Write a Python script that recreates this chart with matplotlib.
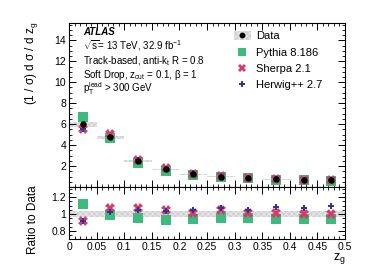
import matplotlib.pyplot as plt
import numpy as np
from matplotlib.lines import Line2D
from matplotlib.patches import Patch
from matplotlib.ticker import MultipleLocator

plt.rcParams["font.family"] = ["Liberation Sans", "DejaVu Sans"]
plt.rcParams["mathtext.fontset"] = "custom"
plt.rcParams["mathtext.rm"] = "Liberation Sans"
plt.rcParams["mathtext.it"] = "Liberation Sans:italic"
plt.rcParams["mathtext.default"] = "regular"
plt.rcParams["hatch.linewidth"] = 0.5

BIN_EDGES = [0.0, 0.05, 0.10, 0.15, 0.20, 0.25, 0.30, 0.35, 0.40, 0.45, 0.50]
DATA = [6.0, 4.73, 2.45, 1.70, 1.24, 0.98, 0.86, 0.74, 0.67, 0.66]
DATA_REL_UNC = [0.04, 0.035, 0.035, 0.035, 0.034, 0.034, 0.034, 0.034, 0.034, 0.034]
PYTHIA = [6.72, 4.68, 2.33, 1.58, 1.17, 0.93, 0.82, 0.70, 0.63, 0.62]
SHERPA = [5.52, 5.06, 2.61, 1.79, 1.26, 1.03, 0.87, 0.75, 0.67, 0.66]
HERWIG = [5.52, 4.82, 2.57, 1.77, 1.30, 1.05, 0.90, 0.80, 0.72, 0.72]

GREEN = "#3dbb7f"
PINK = "#d63a6a"
NAVY = "#2f3790"
BAND_FACE = "#d2d2d2"
BAND_EDGE = "#ececec"


def style_axis(ax):
    ax.tick_params(which="both", direction="in", top=True, right=True, labelsize=7.5, pad=2)
    ax.tick_params(which="major", length=5, width=0.7)
    ax.tick_params(which="minor", length=2.5, width=0.6)
    ax.xaxis.set_major_locator(MultipleLocator(0.05))
    ax.xaxis.set_minor_locator(MultipleLocator(0.01))
    for spine in ax.spines.values():
        spine.set_linewidth(0.8)


def main() -> None:
    edges = np.array(BIN_EDGES)
    centers = 0.5 * (edges[:-1] + edges[1:])
    widths = np.diff(edges)
    data = np.array(DATA)
    unc = np.array(DATA_REL_UNC) * data

    fig = plt.figure(figsize=(3.74, 2.68), dpi=100)
    ax = fig.add_axes([0.1845, 0.302, 0.738, 0.614])
    rax = fig.add_axes([0.1845, 0.108, 0.738, 0.194], sharex=ax)

    band_kw = dict(facecolor=BAND_FACE, edgecolor=BAND_EDGE, hatch="xxxxxx", linewidth=0)
    ax.bar(centers, 2 * unc, width=widths, bottom=data - unc, zorder=1, **band_kw)
    ax.plot(centers, PYTHIA, "s", color=GREEN, ms=6.5, mew=0, zorder=3)
    ax.plot(centers, SHERPA, "X", color=PINK, ms=6.5, mew=0, zorder=4)
    ax.plot(centers, HERWIG, "P", color=NAVY, ms=5, mew=0, zorder=5)
    ax.plot(centers, data, "o", color="black", ms=3.6, zorder=6)

    rel = np.array(DATA_REL_UNC)
    rax.bar(centers, 2 * rel, width=widths, bottom=1 - rel, zorder=1, **band_kw)
    rax.plot(centers, np.array(PYTHIA) / data, "s", color=GREEN, ms=6.5, mew=0, zorder=3)
    rax.plot(centers, np.array(SHERPA) / data, "X", color=PINK, ms=6.5, mew=0, zorder=4)
    rax.plot(centers, np.array(HERWIG) / data, "P", color=NAVY, ms=5, mew=0, zorder=5)

    ax.set_xlim(0, 0.5)
    ax.set_ylim(0, 15.7)
    ax.yaxis.set_major_locator(MultipleLocator(2))
    ax.yaxis.set_minor_locator(MultipleLocator(0.5))
    ax.set_yticks([2, 4, 6, 8, 10, 12, 14])
    style_axis(ax)
    ax.tick_params(labelbottom=False)

    rax.set_ylim(0.705, 1.318)
    rax.set_yticks([0.8, 1.0, 1.2])
    rax.set_yticklabels(["0.8", "1", "1.2"])
    rax.yaxis.set_minor_locator(MultipleLocator(0.05))
    style_axis(rax)
    rax.set_xticks(np.arange(0, 0.51, 0.05))
    rax.set_xticklabels(["0", "0.05", "0.1", "0.15", "0.2", "0.25", "0.3", "0.35", "0.4", "0.45", "0.5"])

    fig.text(0.085, 0.765, r"(1 / $\sigma$) d $\sigma$ / d z$_g$", rotation=90,
             ha="center", va="center", fontsize=8.5)
    fig.text(0.088, 0.18, "Ratio to Data", rotation=90, ha="center", va="center", fontsize=8.5)
    fig.text(0.925, 0.064, r"z$_g$", ha="right", va="top", fontsize=9)

    x0 = 83 / 374
    fig.text(x0, 1 - 32 / 268, "ATLAS", fontsize=7, fontweight="bold", style="italic", va="center")
    lines = [
        (46, r"$\sqrt{s}$= 13 TeV, 32.9 fb$^{-1}$"),
        (61, r"Track-based, anti-k$_t$ R = 0.8"),
        (75, r"Soft Drop, z$_{cut}$ = 0.1, $\beta$ = 1"),
        (89, r"p$_T^{lead}$ > 300 GeV"),
    ]
    for y, txt in lines:
        fig.text(x0, 1 - y / 268, txt, fontsize=7, va="center")

    handles = [
        (Patch(**band_kw), Line2D([], [], ls="none", marker="o", color="black", ms=3.2)),
        Line2D([], [], ls="none", marker="s", color=GREEN, ms=6, mew=0),
        Line2D([], [], ls="none", marker="X", color=PINK, ms=6, mew=0),
        Line2D([], [], ls="none", marker="P", color=NAVY, ms=5, mew=0),
    ]
    labels = ["Data", "Pythia 8.186", "Sherpa 2.1", "Herwig++ 2.7"]
    fig.legend(handles, labels, loc="upper left", bbox_to_anchor=(234 / 374, 1 - 31 / 268),
               frameon=False, fontsize=8, handlelength=1.5, handleheight=0.8, handletextpad=0.5,
               labelspacing=0.57, borderaxespad=0, borderpad=0)

    fig.savefig("out.png", dpi=100)


if __name__ == "__main__":
    main()
